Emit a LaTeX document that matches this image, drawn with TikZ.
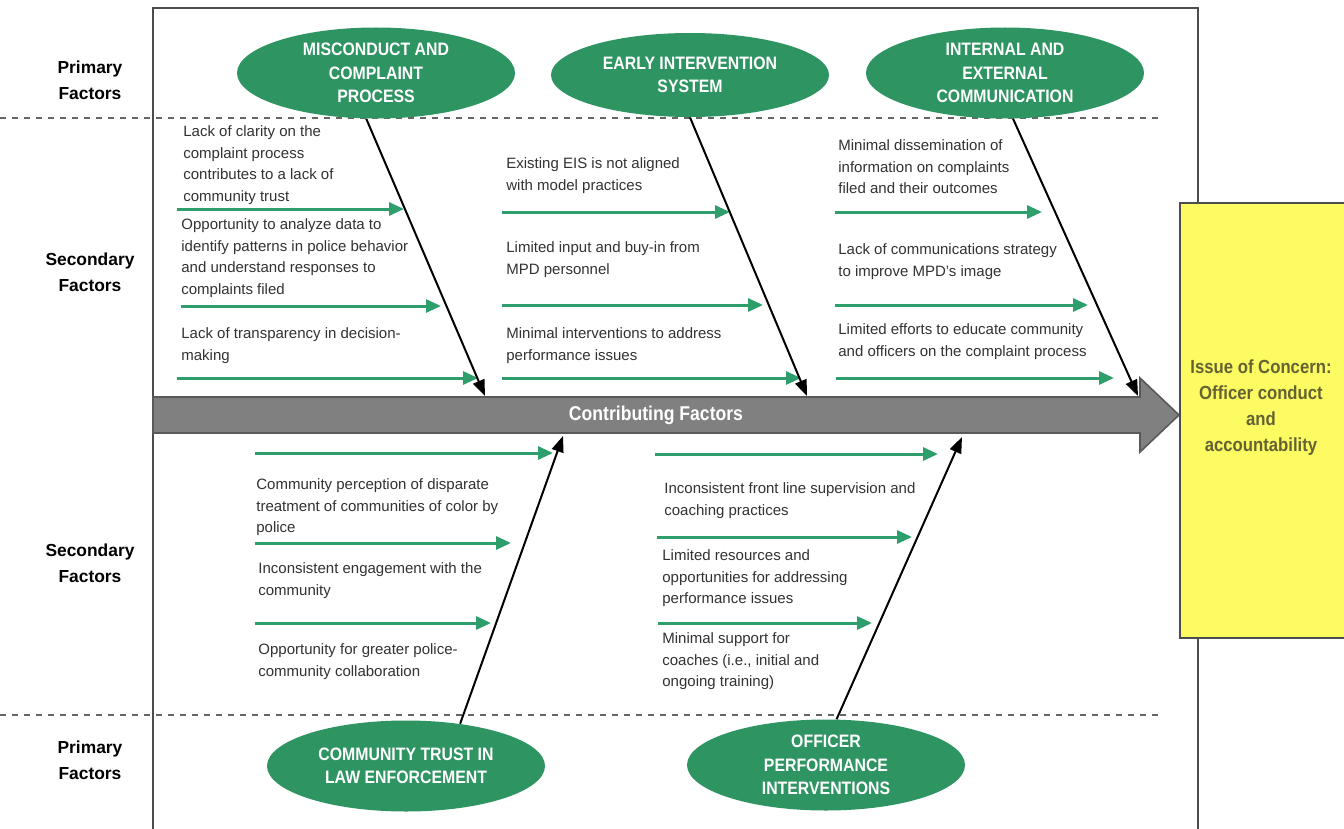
\documentclass[tikz,border=0pt]{standalone}
\usepackage{fontspec}
\setmainfont{Liberation Sans}
\newfontfamily\narrowsf[FakeStretch=0.88]{Liberation Sans}
\usetikzlibrary{arrows.meta,shapes.geometric}

\definecolor{ellgreen}{RGB}{46,148,98}
\definecolor{boneline}{RGB}{46,158,108}
\definecolor{spinegray}{RGB}{128,128,128}
\definecolor{issueyellow}{RGB}{253,251,98}
\definecolor{issuetext}{RGB}{100,98,52}
\definecolor{bodytext}{RGB}{50,50,50}

\begin{document}
\begin{tikzpicture}[x=0.5pt,y=-0.5pt,
  factor/.style={ellipse,fill=ellgreen,text=white,minimum width=139pt,minimum height=45.5pt,inner sep=0pt,align=center,font=\narrowsf\bfseries\fontsize{9}{11.75}\selectfont},
  cause/.style={anchor=north west,inner sep=0pt,align=left,text=bodytext,font=\fontsize{7.5}{10.9}\selectfont},
  side/.style={align=center,font=\bfseries\fontsize{8.7}{13}\selectfont},
  subarrow/.style={draw=boneline,line width=1.5pt,-{Triangle[length=7.5pt,width=6.5pt]}},
  mainarrow/.style={draw=black,line width=1pt,-{Triangle[length=8pt,width=6pt]}},
  divider/.style={draw=black!60,dashed,line width=0.6pt}]
\useasboundingbox (0,0) rectangle (1344,829);
\fill[white] (0,0) rectangle (1344,829);

% frame and dividers
\path[draw=black!70,line width=1pt] (153,829) -- (153,8) -- (1198,8) -- (1198,829);
\path[divider] (0,118) -- (1160,118);
\path[divider] (0,715) -- (1160,715);

\node[side] (p1) at (90,80) {Primary\\Factors};
\node[side] (s1) at (90,272) {Secondary\\Factors};
\node[side] (s2) at (90,563) {Secondary\\Factors};
\node[side] (p2) at (90,760) {Primary\\Factors};

% spine
\path[draw=black!65,fill=spinegray,line width=0.8pt] (153,397) -- (1140,397) -- (1140,378) -- (1179,415) -- (1140,452) -- (1140,433) -- (153,433) -- cycle;
\node[text=white,font=\narrowsf\bfseries\fontsize{10}{12}\selectfont] (spine) at (656,415) {Contributing Factors};

% issue of concern
\node[draw=black!70,fill=issueyellow,line width=0.8pt,anchor=north west,inner sep=0pt,minimum width=85.5pt,minimum height=217.5pt] (issue) at (1179,202) {};
\node[align=center,text=issuetext,font=\narrowsf\bfseries\fontsize{9.5}{13}\selectfont] (concern) at (1261,408) {Issue of Concern:\\Officer conduct\\and\\accountability};

% primary factors
\node[factor,text depth=-3pt] (misc) at (376,73) {MISCONDUCT AND\\COMPLAINT\\PROCESS};
\node[factor,minimum height=42pt] (eis) at (690,75) {EARLY INTERVENTION\\SYSTEM};
\node[factor,text depth=-3pt] (comm) at (1005,73) {INTERNAL AND\\EXTERNAL\\COMMUNICATION};
\node[factor] (trust) at (406,766) {COMMUNITY TRUST IN\\LAW ENFORCEMENT};
\node[factor] (perf) at (826,765) {OFFICER\\PERFORMANCE\\INTERVENTIONS};

% secondary factors
\node[cause] (c1) at (183,125) {Lack of clarity on the\\complaint process\\contributes to a lack of\\community trust};
\node[cause] (c2) at (181,218) {Opportunity to analyze data to\\identify patterns in police behavior\\and understand responses to\\complaints filed};
\node[cause] (c3) at (181,327) {Lack of transparency in decision-\\making};
\node[cause] (c4) at (506,157) {Existing EIS is not aligned\\with model practices};
\node[cause] (c5) at (506,241) {Limited input and buy-in from\\MPD personnel};
\node[cause] (c6) at (506,327) {Minimal interventions to address\\performance issues};
\node[cause] (c7) at (838,139) {Minimal dissemination of\\information on complaints\\filed and their outcomes};
\node[cause] (c8) at (838,243) {Lack of communications strategy\\to improve MPD's image};
\node[cause] (c9) at (838,323) {Limited efforts to educate community\\and officers on the complaint process};
\node[cause] (c10) at (256,478) {Community perception of disparate\\treatment of communities of color by\\police};
\node[cause] (c11) at (258,562) {Inconsistent engagement with the\\community};
\node[cause] (c12) at (258,643) {Opportunity for greater police-\\community collaboration};
\node[cause] (c13) at (664,482) {Inconsistent front line supervision and\\coaching practices};
\node[cause] (c14) at (662,549) {Limited resources and\\opportunities for addressing\\performance issues};
\node[cause] (c15) at (662,632) {Minimal support for\\coaches (i.e., initial and\\ongoing training)};

% green sub-arrows
\coordinate (a1) at (177,209);  \coordinate (b1) at (404,209);
\coordinate (a2) at (181,306);  \coordinate (b2) at (441,306);
\coordinate (a3) at (177,378);  \coordinate (b3) at (478,378);
\coordinate (a4) at (502,212);  \coordinate (b4) at (730,212);
\coordinate (a5) at (502,305);  \coordinate (b5) at (763,305);
\coordinate (a6) at (502,378);  \coordinate (b6) at (801,378);
\coordinate (a7) at (835,212);  \coordinate (b7) at (1042,212);
\coordinate (a8) at (835,305);  \coordinate (b8) at (1088,305);
\coordinate (a9) at (836,378);  \coordinate (b9) at (1114,378);
\coordinate (a10) at (255,453); \coordinate (b10) at (553,453);
\coordinate (a11) at (255,543); \coordinate (b11) at (511,543);
\coordinate (a12) at (255,623); \coordinate (b12) at (491,623);
\coordinate (a13) at (655,454); \coordinate (b13) at (938,454);
\coordinate (a14) at (657,537); \coordinate (b14) at (912,537);
\coordinate (a15) at (658,623); \coordinate (b15) at (872,623);

\path[subarrow] (a1) -- (b1);
\path[subarrow] (a2) -- (b2);
\path[subarrow] (a3) -- (b3);
\path[subarrow] (a4) -- (b4);
\path[subarrow] (a5) -- (b5);
\path[subarrow] (a6) -- (b6);
\path[subarrow] (a7) -- (b7);
\path[subarrow] (a8) -- (b8);
\path[subarrow] (a9) -- (b9);
\path[subarrow] (a10) -- (b10);
\path[subarrow] (a11) -- (b11);
\path[subarrow] (a12) -- (b12);
\path[subarrow] (a13) -- (b13);
\path[subarrow] (a14) -- (b14);
\path[subarrow] (a15) -- (b15);

% bones
\coordinate (t1) at (485,396);
\coordinate (t2) at (807,396);
\coordinate (t3) at (1138,396);
\coordinate (t4) at (563,436);
\coordinate (t5) at (962,437);
\path[mainarrow] (misc.258) -- (t1);
\path[mainarrow] (eis.south) -- (t2);
\path[mainarrow] (comm.280) -- (t3);
\path[mainarrow] (trust.38) -- (t4);
\path[mainarrow] (perf.77) -- (t5);
\end{tikzpicture}
\end{document}
